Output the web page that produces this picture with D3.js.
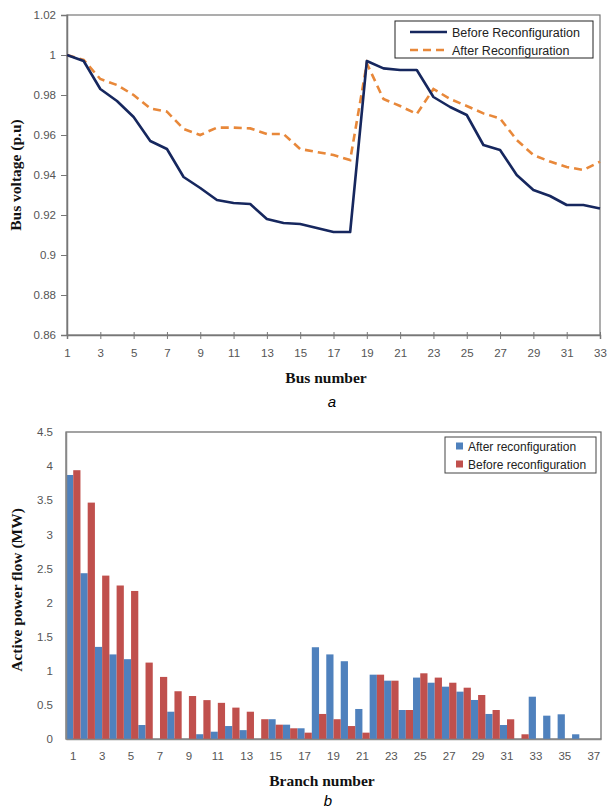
<!DOCTYPE html>
<html><head><meta charset="utf-8">
<script src="https://cdn.jsdelivr.net/npm/d3@7"></script>
<style>
body{margin:0;background:#fff;}
svg{display:block;}
.tick text{font-family:"Liberation Sans",Arial,sans-serif;font-size:11.5px;fill:#555;}
.ttl{font-family:"Liberation Serif","Times New Roman",serif;font-weight:bold;font-size:15.5px;fill:#111;}
.leg{font-family:"Liberation Sans",Arial,sans-serif;font-size:12.5px;fill:#222;}
</style></head><body>
<script>
// ---- Chart a: bus voltages ----
const buses = d3.range(1, 34);
const voltBefore = [1.000,0.997,0.983,0.977,0.969,0.957,0.953,0.939,0.9335,0.9275,0.926,0.9255,0.918,0.916,0.9155,0.9135,0.9115,0.9115,
  0.997,0.9933,0.9925,0.9925,0.979,0.974,0.970,0.955,0.9525,0.940,0.9325,0.9295,0.925,0.925,0.9233];
const voltAfter = [1.000,0.9975,0.988,0.985,0.980,0.9733,0.9717,0.963,0.960,0.9637,0.9637,0.9633,0.9605,0.9605,0.953,0.9515,0.950,0.9475,
  0.9958,0.978,0.9745,0.9705,0.983,0.978,0.9745,0.9708,0.9683,0.9575,0.950,0.9467,0.944,0.9425,0.9467];
const voltTicks = [0.86,0.88,0.9,0.92,0.94,0.96,0.98,1,1.02];
const busTicks = d3.range(1, 34, 2);
const seriesA = ["Before Reconfiguration","After Reconfiguration"];

// ---- Chart b: branch power flow ----
const branches = d3.range(1, 38);
const flowAfter = [3.87,2.43,1.35,1.24,1.17,0.205,0,0.40,0,0.07,0.107,0.19,0.13,0,0.29,0.21,0.157,
  1.345,1.24,1.14,0.44,0.943,0.855,0.425,0.90,0.825,0.767,0.694,0.572,0.367,0.205,0,0.62,0.342,0.362,0.069,0];
const flowBefore = [3.94,3.465,2.395,2.25,2.17,1.12,0.91,0.70,0.63,0.57,0.53,0.46,0.40,0.29,0.21,0.157,0.093,
  0.367,0.29,0.19,0.093,0.943,0.855,0.425,0.963,0.90,0.825,0.752,0.645,0.425,0.289,0.069,0,0,0,0,0];
const flowTicks = [0,0.5,1,1.5,2,2.5,3,3.5,4,4.5];
const branchTicks = d3.range(1, 38, 2);
const seriesB = ["After reconfiguration","Before reconfiguration"];

const W = 608, H = 811;
const svg = d3.select("body").append("svg").attr("width", W).attr("height", H);

// ===== Chart a =====
const xa = d3.scaleLinear().domain([1,33]).range([67,600]);
const ya = d3.scaleLinear().domain([0.86,1.02]).range([335,15]);
const ga = svg.append("g");
ga.append("rect").attr("x",67).attr("y",15).attr("width",600-67).attr("height",320)
  .attr("fill","none").attr("stroke","#777").attr("stroke-width",1.2);
const yAxA = ga.append("g").attr("transform","translate(67,0)")
  .call(d3.axisLeft(ya).tickValues(voltTicks).tickSize(6).tickPadding(5).tickFormat(d=>d3.format("")(+d.toFixed(2))));
const xAxA = ga.append("g").attr("transform","translate(0,335)")
  .call(d3.axisBottom(xa).tickValues(busTicks).tickSize(4).tickPadding(10).tickFormat(d3.format("d")));
[yAxA,xAxA].forEach(a=>{a.selectAll("path").attr("stroke","#777").attr("stroke-width",1.5);a.selectAll("line").attr("stroke","#777");});
xAxA.selectAll(".tick line").attr("y1",-3);

const lineA = d3.line().x((d,i)=>xa(buses[i])).y(d=>ya(d));
ga.append("path").datum(voltAfter).attr("d",lineA).attr("fill","none")
  .attr("stroke","#E8883A").attr("stroke-width",2.6).attr("stroke-dasharray","8,5");
ga.append("path").datum(voltBefore).attr("d",lineA).attr("fill","none")
  .attr("stroke","#16275E").attr("stroke-width",2.6).attr("stroke-linejoin","round");

ga.append("text").attr("class","ttl").attr("transform","translate(21,175) rotate(-90)")
  .attr("text-anchor","middle").text("Bus voltage (p.u)");
ga.append("text").attr("class","ttl").attr("x",326).attr("y",383).attr("text-anchor","middle").text("Bus number");
ga.append("text").attr("x",332).attr("y",407).attr("text-anchor","middle")
  .style("font-family","Liberation Sans,Arial,sans-serif").style("font-style","italic").style("font-size","15px").text("a");

// legend a
const la = ga.append("g");
la.append("rect").attr("x",395).attr("y",21).attr("width",198).attr("height",37)
  .attr("fill","#fff").attr("stroke","#222").attr("stroke-width",1);
seriesA.forEach((s,i)=>{
  const yy = 32 + i*18;
  la.append("line").attr("x1",410).attr("x2",447).attr("y1",yy).attr("y2",yy)
    .attr("stroke", i===0?"#16275E":"#E8883A").attr("stroke-width",2.6)
    .attr("stroke-dasharray", i===0?null:"8,5");
  la.append("text").attr("class","leg").attr("x",452).attr("y",yy+4.5).text(s);
});

// ===== Chart b =====
const xb = d3.scaleBand().domain(branches).range([66,601]).padding(0);
const xi = d3.scaleBand().domain([0,1]).range([0,xb.bandwidth()]);
const yb = d3.scaleLinear().domain([0,4.5]).range([739,432]);
const gb = svg.append("g");
gb.append("rect").attr("x",66).attr("y",432).attr("width",601-66).attr("height",307)
  .attr("fill","none").attr("stroke","#666").attr("stroke-width",1.2);

const colors = ["#4F81BD","#C0504D"];
[flowAfter, flowBefore].forEach((arr,si)=>{
  gb.append("g").selectAll("rect").data(arr).join("rect")
    .attr("x",(d,i)=>xb(branches[i])+xi(si))
    .attr("width",xi.bandwidth())
    .attr("y",d=>yb(d))
    .attr("height",d=>yb(0)-yb(d))
    .attr("fill",colors[si]);
});

const yAxB = gb.append("g").attr("transform","translate(66,0)")
  .call(d3.axisLeft(yb).tickValues(flowTicks).tickSize(0).tickPadding(13).tickFormat(d=>String(d)));
const xAxB = gb.append("g").attr("transform","translate(0,739)")
  .call(d3.axisBottom(xb).tickValues(branchTicks).tickSize(0).tickPadding(13));
[yAxB,xAxB].forEach(a=>{a.selectAll("path").attr("stroke","#888").attr("stroke-width",1.5);});

gb.append("text").attr("class","ttl").attr("transform","translate(22,590) rotate(-90)")
  .attr("text-anchor","middle").text("Active  power flow (MW)");
gb.append("text").attr("class","ttl").attr("x",322).attr("y",786).attr("text-anchor","middle").text("Branch  number");
gb.append("text").attr("x",328).attr("y",806).attr("text-anchor","middle")
  .style("font-family","Liberation Sans,Arial,sans-serif").style("font-style","italic").style("font-size","15px").text("b");

// legend b
const lb = gb.append("g");
lb.append("rect").attr("x",445).attr("y",437).attr("width",151).attr("height",36)
  .attr("fill","#fff").attr("stroke","#444").attr("stroke-width",1);
seriesB.forEach((s,i)=>{
  const yy = 446 + i*18;
  lb.append("rect").attr("x",456).attr("y",yy-3.5).attr("width",7).attr("height",7).attr("fill",colors[i]);
  lb.append("text").attr("class","leg").attr("x",468).attr("y",yy+4.5).style("font-size","12px").text(s);
});
</script>
</body></html>
